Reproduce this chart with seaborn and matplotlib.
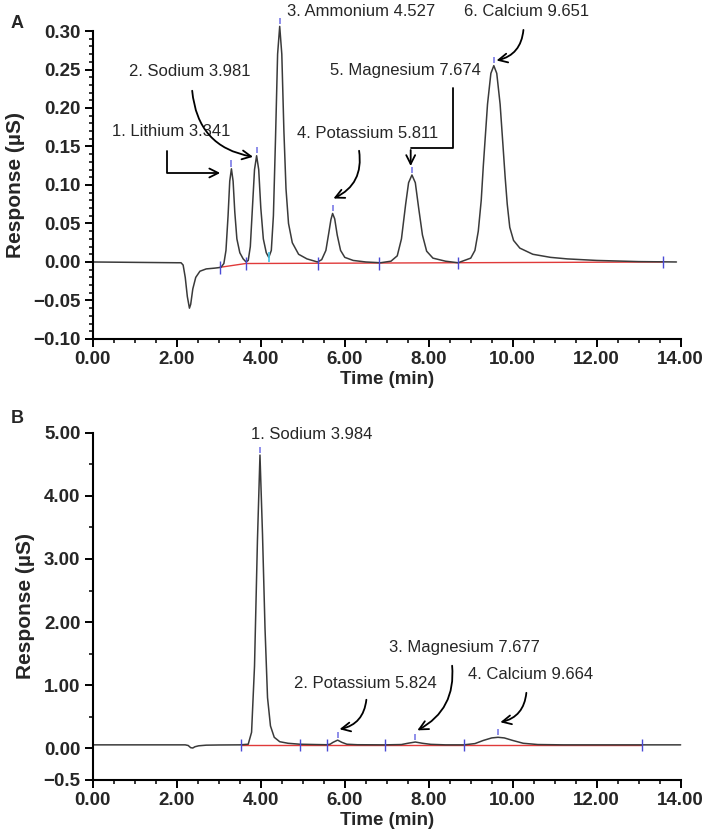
import numpy as np
import matplotlib
matplotlib.use("Agg")
import matplotlib.pyplot as plt
from matplotlib.ticker import MultipleLocator, FixedLocator
import seaborn as sns

# ---- panel A: standard mix trace (time in min, response in uS) ----
time_a = [0.0, 1.0, 2.0, 2.1, 2.15, 2.2, 2.25, 2.3, 2.33, 2.38, 2.45, 2.55, 2.7, 2.9, 3.05,
          3.12, 3.17, 3.22, 3.26, 3.30, 3.34, 3.38, 3.43, 3.50, 3.58, 3.65,
          3.70, 3.75, 3.80, 3.85, 3.90, 3.95, 4.00, 4.06, 4.13, 4.19,
          4.25, 4.30, 4.35, 4.40, 4.45, 4.50, 4.55, 4.60, 4.66, 4.75, 4.90, 5.10, 5.35,
          5.45, 5.55, 5.62, 5.67, 5.71, 5.76, 5.82, 5.90, 6.00, 6.20, 6.50, 6.85,
          7.10, 7.25, 7.35, 7.45, 7.52, 7.60, 7.68, 7.76, 7.85, 7.95, 8.10, 8.40, 8.70,
          8.85, 9.00, 9.10, 9.18, 9.25, 9.30, 9.40, 9.48, 9.55, 9.62, 9.70, 9.77, 9.82,
          9.87, 9.93, 10.02, 10.17, 10.48, 10.90, 11.30, 12.00, 13.00, 13.90]
resp_a = [0.0, -0.0005, -0.001, -0.001, -0.004, -0.02, -0.045, -0.06, -0.055, -0.035, -0.02,
          -0.012, -0.009, -0.008, -0.007,
          -0.002, 0.015, 0.06, 0.105, 0.121, 0.105, 0.065, 0.03, 0.012, 0.004, 0.0,
          0.002, 0.02, 0.07, 0.12, 0.138, 0.12, 0.07, 0.03, 0.012, 0.006,
          0.015, 0.06, 0.16, 0.27, 0.306, 0.27, 0.17, 0.095, 0.05, 0.025, 0.01, 0.004, 0.0,
          0.003, 0.015, 0.038, 0.055, 0.063, 0.056, 0.035, 0.015, 0.006, 0.002, 0.0, -0.001,
          0.001, 0.008, 0.03, 0.075, 0.103, 0.113, 0.103, 0.07, 0.035, 0.014, 0.005, 0.001, -0.001,
          0.002, 0.005, 0.015, 0.04, 0.08, 0.125, 0.205, 0.245, 0.255, 0.245, 0.205, 0.15, 0.11,
          0.075, 0.045, 0.028, 0.018, 0.010, 0.006, 0.004, 0.002, 0.0005, 0.0]

base_time_a = [3.02, 3.64, 13.57]
base_resp_a = [-0.007, -0.002, 0.0]
event_time_a = [3.02, 3.64, 5.36, 6.81, 8.69, 13.57]
event_resp_a = [-0.007, -0.002, -0.002, -0.002, -0.001, 0.0]
apex_time_a = [3.30, 3.90, 4.45, 5.71, 7.60, 9.55]
apex_resp_a = [0.121, 0.138, 0.306, 0.063, 0.113, 0.255]
labels_a = ["1. Lithium 3.341", "2. Sodium 3.981", "3. Ammonium 4.527",
            "4. Potassium 5.811", "5. Magnesium 7.674", "6. Calcium 9.651"]

# ---- panel B: sample trace ----
time_b = [0.0, 2.2, 2.27, 2.33, 2.38, 2.43, 2.52, 2.7, 3.0, 3.5,
          3.70, 3.78, 3.85, 3.92, 3.98, 4.04, 4.10, 4.16, 4.23, 4.32, 4.45, 4.65, 4.93,
          5.3, 5.57, 5.65, 5.72, 5.83, 5.93, 6.05, 6.3, 6.95,
          7.35, 7.5, 7.68, 7.85, 8.05, 8.4, 8.83,
          9.1, 9.3, 9.5, 9.65, 9.8, 10.0, 10.25, 10.6, 11.2, 14.0]
resp_b = [0.05, 0.05, 0.04, 0.005, 0.0, 0.02, 0.035, 0.045, 0.048, 0.05,
          0.06, 0.25, 1.3, 3.3, 4.65, 3.4, 1.9, 0.8, 0.35, 0.17, 0.1, 0.075, 0.06,
          0.055, 0.052, 0.06, 0.09, 0.125, 0.09, 0.06, 0.052, 0.05,
          0.055, 0.075, 0.095, 0.075, 0.058, 0.05, 0.05,
          0.07, 0.12, 0.16, 0.17, 0.16, 0.12, 0.075, 0.055, 0.05, 0.05]

base_time_b = [3.52, 13.07]
base_resp_b = [0.05, 0.05]
event_time_b = [3.52, 4.93, 5.57, 6.95, 8.83, 13.07]
event_resp_b = [0.05, 0.05, 0.05, 0.05, 0.05, 0.05]
apex_time_b = [3.98, 5.83, 7.68, 9.65]
apex_resp_b = [4.65, 0.125, 0.095, 0.17]
labels_b = ["1. Sodium 3.984", "2. Potassium 5.824", "3. Magnesium 7.677", "4. Calcium 9.664"]

sns.set_style("ticks")
plt.rcParams['font.family'] = ['Liberation Sans', 'DejaVu Sans']

fig = plt.figure(figsize=(7.09, 8.38), dpi=100)
ax1 = fig.add_axes([0.131, 0.5955, 0.829, 0.3675])
ax2 = fig.add_axes([0.131, 0.0698, 0.829, 0.4135])

trace_col = '#3a3a3a'
blue = '#4a4ad6'

def draw_panel(ax, t, r, bt, br, et, er, at, ar, ev_half, apex_gap, apex_len):
    sns.lineplot(x=bt, y=br, ax=ax, color='#e03a3a', linewidth=1.0, estimator=None)
    sns.lineplot(x=t, y=r, ax=ax, color=trace_col, linewidth=1.1, estimator=None)
    for ln in ax.lines:
        ln.set_clip_on(False)
    ax.vlines(et, np.array(er) - ev_half, np.array(er) + ev_half, color=blue, linewidth=1.0)
    ax.vlines(at, np.array(ar) + apex_gap, np.array(ar) + apex_gap + apex_len,
              color='#7a7ae6', linewidth=1.2, clip_on=False)
    ax.set_xlim(0, 14)
    ax.xaxis.set_major_locator(MultipleLocator(2))
    ax.xaxis.set_minor_locator(MultipleLocator(0.5))
    ax.set_xticklabels([f"{v:.2f}" for v in ax.get_xticks()])
    ax.set_xlabel("Time (min)", fontsize=13.5, fontweight='bold', labelpad=2)
    ax.set_ylabel("Response (µS)", fontsize=15, fontweight='bold', labelpad=6)
    for s in ['top', 'right']:
        ax.spines[s].set_visible(False)
    for s in ['left', 'bottom']:
        ax.spines[s].set_linewidth(1.5)
        ax.spines[s].set_color('black')
    ax.tick_params(which='major', length=6, width=1.4, labelsize=13.5, color='black', pad=3)
    ax.tick_params(which='minor', length=3, width=1.1, color='black')

# panel A
ax1.set_ylim(-0.10, 0.30)
ax1.yaxis.set_major_locator(MultipleLocator(0.05))
ax1.yaxis.set_minor_locator(MultipleLocator(0.01))
draw_panel(ax1, time_a, resp_a, base_time_a, base_resp_a, event_time_a, event_resp_a,
           apex_time_a, apex_resp_a, 0.008, 0.003, 0.008)
ax1.vlines([4.19], [0.0], [0.013], color='#45c4e6', linewidth=1.2)
ax1.set_yticklabels([f"{v:.2f}".replace('-', '\u2212') for v in ax1.get_yticks()])

# panel B
ax2.set_ylim(-0.5, 5.0)
ax2.yaxis.set_major_locator(FixedLocator([-0.5, 0, 1, 2, 3, 4, 5]))
ax2.yaxis.set_minor_locator(MultipleLocator(0.5))
draw_panel(ax2, time_b, resp_b, base_time_b, base_resp_b, event_time_b, event_resp_b,
           apex_time_b, apex_resp_b, 0.1, 0.03, 0.1)
ax2.set_yticklabels(["\u22120.5", "0.00", "1.00", "2.00", "3.00", "4.00", "5.00"])

for lab in ax1.get_xticklabels() + ax1.get_yticklabels() + ax2.get_xticklabels() + ax2.get_yticklabels():
    lab.set_fontweight('bold')

fs = 12
arr = dict(arrowstyle='->', color='black', lw=1.3, mutation_scale=16)

# panel A labels and arrows
ax1.text(1.86, 0.169, labels_a[0], fontsize=fs, ha='center', va='center')
ax1.annotate('', xy=(3.10, 0.1156), xytext=(1.76, 0.148),
             arrowprops=dict(arr, connectionstyle='angle,angleA=90,angleB=0,rad=0'))
ax1.text(2.31, 0.247, labels_a[1], fontsize=fs, ha='center', va='center')
ax1.annotate('', xy=(3.88, 0.136), xytext=(2.36, 0.226),
             arrowprops=dict(arr, connectionstyle='arc3,rad=0.4'))
ax1.text(6.38, 0.325, labels_a[2], fontsize=fs, ha='center', va='center', clip_on=False)
ax1.text(6.55, 0.1675, labels_a[3], fontsize=fs, ha='center', va='center')
ax1.annotate('', xy=(5.67, 0.081), xytext=(6.33, 0.148),
             arrowprops=dict(arr, connectionstyle='arc3,rad=-0.4'))
ax1.text(7.45, 0.249, labels_a[4], fontsize=fs, ha='center', va='center')
ax1.plot([8.57, 8.57, 7.57], [0.226, 0.148, 0.148], color='black', lw=1.3)
ax1.annotate('', xy=(7.57, 0.121), xytext=(7.57, 0.149), arrowprops=arr)
ax1.text(10.33, 0.325, labels_a[5], fontsize=fs, ha='center', va='center', clip_on=False)
ax1.annotate('', xy=(9.55, 0.261), xytext=(10.26, 0.305),
             arrowprops=dict(arr, connectionstyle='arc3,rad=-0.4'))

# panel B labels and arrows
ax2.text(5.22, 4.97, labels_b[0], fontsize=fs, ha='center', va='center')
ax2.text(6.48, 1.03, labels_b[1], fontsize=fs, ha='center', va='center')
ax2.annotate('', xy=(5.81, 0.29), xytext=(6.52, 0.81),
             arrowprops=dict(arr, connectionstyle='arc3,rad=-0.4'))
ax2.text(8.86, 1.59, labels_b[2], fontsize=fs, ha='center', va='center')
ax2.annotate('', xy=(7.67, 0.26), xytext=(8.55, 1.35),
             arrowprops=dict(arr, connectionstyle='arc3,rad=-0.35'))
ax2.text(10.43, 1.16, labels_b[3], fontsize=fs, ha='center', va='center')
ax2.annotate('', xy=(9.64, 0.40), xytext=(10.33, 0.92),
             arrowprops=dict(arr, connectionstyle='arc3,rad=-0.4'))

fig.text(0.015, 1 - 23 / 838, 'A', fontsize=13, fontweight='bold', va='center')
fig.text(0.015, 1 - 418 / 838, 'B', fontsize=13, fontweight='bold', va='center')

fig.savefig('out.png', dpi=100)
